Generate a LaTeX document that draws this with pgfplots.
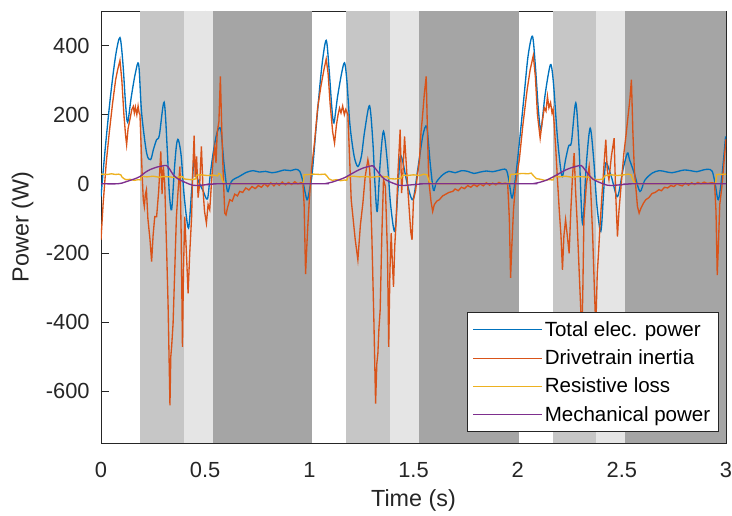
\documentclass[border=0pt]{standalone}
\usepackage{pgfplots}
\pgfplotsset{compat=1.18}
\usepackage{fontspec}
\setmainfont{Liberation Sans}
\definecolor{mblue}{HTML}{0072BD}
\definecolor{morange}{HTML}{D95319}
\definecolor{myellow}{HTML}{EDB120}
\definecolor{mpurple}{HTML}{7E2F8E}
\definecolor{bandA}{HTML}{C6C6C6}
\definecolor{bandB}{HTML}{E5E5E5}
\definecolor{bandC}{HTML}{A5A5A5}
\definecolor{axcol}{HTML}{262626}

\begin{document}
\begin{tikzpicture}
\begin{axis}[
    scale only axis, width=468.75pt, height=324pt,
    xmin=0, xmax=3, ymin=-750, ymax=500,
    xtick={0,0.5,1,1.5,2,2.5,3},
    ytick={-600,-400,-200,0,200,400},
    tick align=inside, major tick length=6pt,
    axis line style={axcol, line width=0.6pt},
    tick style={axcol, line width=0.6pt},
    ticklabel style={font=\fontsize{16.4}{19}\selectfont, text=axcol},
    xticklabel style={yshift=-11pt},
    yticklabel style={xshift=-5pt},
    /pgf/number format/assume math mode=true,
    xlabel={Time (s)}, ylabel={Power (W)},
    label style={font=\fontsize{17.5}{21}\selectfont, text=axcol},
    xlabel style={at={([yshift=-43pt]axis description cs:0.5,0)}, anchor=center},
    ylabel style={at={([xshift=-58.9pt]axis description cs:0,0.5)}, anchor=center},
    legend style={at={(1,0)}, anchor=south east, xshift=-5.25pt, yshift=8.25pt,
                  font=\fontsize{15.4}{18}\selectfont, draw=axcol, line width=0.5pt,
                  fill=white, row sep=4.5pt, inner xsep=4.3pt, inner ysep=4.5pt},
    legend cell align=left,
    legend image code/.code={\draw[#1, line width=0.8pt] (0cm,0cm) -- (1.8cm,0cm);},
  ]
  % shaded phases
  \addplot[fill=bandA, draw=none, forget plot] coordinates {(0.187,-750)(0.398,-750)(0.398,500)(0.187,500)} -- cycle;
  \addplot[fill=bandB, draw=none, forget plot] coordinates {(0.398,-750)(0.538,-750)(0.538,500)(0.398,500)} -- cycle;
  \addplot[fill=bandC, draw=none, forget plot] coordinates {(0.538,-750)(1.015,-750)(1.015,500)(0.538,500)} -- cycle;
  \addplot[fill=bandA, draw=none, forget plot] coordinates {(1.174,-750)(1.388,-750)(1.388,500)(1.174,500)} -- cycle;
  \addplot[fill=bandB, draw=none, forget plot] coordinates {(1.388,-750)(1.524,-750)(1.524,500)(1.388,500)} -- cycle;
  \addplot[fill=bandC, draw=none, forget plot] coordinates {(1.524,-750)(2.008,-750)(2.008,500)(1.524,500)} -- cycle;
  \addplot[fill=bandA, draw=none, forget plot] coordinates {(2.171,-750)(2.377,-750)(2.377,500)(2.171,500)} -- cycle;
  \addplot[fill=bandB, draw=none, forget plot] coordinates {(2.377,-750)(2.514,-750)(2.514,500)(2.377,500)} -- cycle;
  \addplot[fill=bandC, draw=none, forget plot] coordinates {(2.514,-750)(3,-750)(3,500)(2.514,500)} -- cycle;

  % total electrical power
  \addplot[mblue, line width=1pt, smooth, tension=0.5] coordinates {
    (0,-37)(0.02,100)(0.045,250)(0.07,370)(0.091,423)(0.105,350)(0.118,230)(0.128,178)
    (0.145,250)(0.165,320)(0.181,345)(0.195,205)(0.219,89)(0.238,70)(0.252,100)(0.267,128)
    (0.28,140)(0.303,236)(0.318,100)(0.328,-27)(0.339,-75)(0.352,40)(0.362,110)(0.371,128)
    (0.385,80)(0.4,-40)(0.42,-128)(0.435,-20)(0.447,65)(0.46,20)(0.47,4)(0.49,-20)(0.511,-44)
    (0.525,30)(0.541,99)(0.558,150)(0.575,157)(0.59,60)(0.607,-22)(0.62,0)(0.634,12)(0.66,20)
    (0.698,33)(0.73,38)(0.76,34)(0.79,36)(0.82,32)(0.85,35)(0.88,40)(0.91,38)(0.935,42)
    (0.954,36)(0.969,7)(0.989,-46)(1.003,-10)(1.014,32)(1.035,180)(1.06,340)(1.081,415)
    (1.095,330)(1.108,220)(1.118,176)(1.135,250)(1.155,320)(1.169,350)(1.18,300)(1.195,170)
    (1.215,80)(1.233,50)(1.25,80)(1.265,150)(1.289,226)(1.305,120)(1.315,0)(1.326,-80)
    (1.34,60)(1.356,152)(1.375,60)(1.39,-60)(1.41,-138)(1.425,-20)(1.436,79)(1.45,60)
    (1.47,0)(1.497,-46)(1.52,40)(1.545,140)(1.564,164)(1.58,60)(1.596,-19)(1.61,5)(1.64,26)
    (1.67,36)(1.7,32)(1.73,38)(1.76,36)(1.79,30)(1.82,34)(1.85,37)(1.88,35)(1.91,39)
    (1.944,41)(1.958,10)(1.973,-41)(1.99,20)(2.008,118)(2.03,250)(2.05,370)(2.071,427)
    (2.085,340)(2.1,210)(2.112,157)(2.13,250)(2.148,320)(2.16,345)(2.172,290)(2.19,140)
    (2.205,50)(2.215,21)(2.23,70)(2.245,110)(2.258,120)(2.279,234)(2.295,100)(2.311,-114)
    (2.33,60)(2.348,161)(2.365,70)(2.38,-60)(2.399,-138)(2.412,-30)(2.423,60)(2.45,20)
    (2.479,-37)(2.505,40)(2.527,89)(2.537,70)(2.56,30)(2.587,-22)(2.61,10)(2.646,31)
    (2.68,38)(2.71,35)(2.74,32)(2.77,36)(2.8,40)(2.83,38)(2.86,35)(2.89,40)(2.915,42)
    (2.934,36)(2.948,0)(2.963,-46)(2.98,20)(2.998,137)
  };
  \addlegendentry{Total elec. power}

  % drivetrain inertia
  \addplot[morange, line width=1pt] coordinates {
    (0,-162)(0.01,-60)(0.025,60)(0.04,150)(0.055,230)(0.07,300)(0.08,330)(0.091,357)
    (0.1,300)(0.11,200)(0.118,140)(0.123,113)(0.13,160)(0.14,190)(0.148,215)(0.155,224)
    (0.16,205)(0.165,222)(0.172,200)(0.178,225)(0.183,205)(0.187,200)(0.192,120)(0.198,20)
    (0.203,-46)(0.208,-66)(0.213,-30)(0.218,-17)(0.225,-100)(0.235,-160)(0.243,-225)
    (0.25,-150)(0.258,-95)(0.267,-95)(0.277,-20)(0.287,94)(0.293,-30)(0.299,50)(0.306,0)
    (0.315,-191)(0.322,-350)(0.331,-641)(0.335,-500)(0.339,-472)(0.346,-404)(0.354,-250)
    (0.362,-95)(0.37,-20)(0.379,50)(0.385,-150)(0.391,-472)(0.396,-250)(0.402,-95)
    (0.41,-200)(0.418,-317)(0.426,-200)(0.435,-95)(0.44,30)(0.447,139)(0.452,20)(0.459,79)
    (0.466,-40)(0.474,3)(0.482,108)(0.49,-20)(0.497,-80)(0.506,-114)(0.514,-60)(0.522,-75)
    (0.53,0)(0.538,70)(0.546,108)(0.552,60)(0.558,150)(0.566,180)(0.573,311)(0.58,150)
    (0.586,40)(0.594,-85)(0.6,-90)(0.607,-70)(0.618,-46)(0.63,-50)(0.642,-30)(0.655,-35)
    (0.666,-22)(0.68,-25)(0.695,-12)(0.71,-18)(0.725,-8)(0.74,-14)(0.755,-5)(0.77,-10)
    (0.785,0)(0.8,-8)(0.815,3)(0.83,-6)(0.842,2)(0.855,-4)(0.87,5)(0.885,-3)(0.9,4)
    (0.915,-2)(0.93,6)(0.945,0)(0.96,3)(0.969,2)(0.975,-60)(0.982,-261)(0.988,-180)
    (0.993,-119)(1.0,-46)(1.01,40)(1.025,120)(1.04,220)(1.055,280)(1.07,330)(1.081,361)
    (1.09,320)(1.1,230)(1.112,150)(1.121,118)(1.13,170)(1.138,200)(1.145,219)(1.152,205)
    (1.16,225)(1.168,200)(1.175,215)(1.185,200)(1.193,80)(1.201,-46)(1.21,-100)(1.22,-160)
    (1.233,-220)(1.245,-120)(1.257,-56)(1.268,20)(1.281,70)(1.29,40)(1.3,-150)(1.31,-400)
    (1.318,-636)(1.324,-520)(1.329,-491)(1.334,-420)(1.34,-365)(1.348,-150)(1.356,12)
    (1.365,-8)(1.375,-200)(1.381,-472)(1.387,-250)(1.393,-143)(1.398,-220)(1.404,-298)
    (1.41,-180)(1.417,-104)(1.426,40)(1.436,157)(1.443,-27)(1.45,40)(1.457,137)(1.465,60)
    (1.472,-8)(1.48,-80)(1.487,-140)(1.493,-162)(1.5,-46)(1.51,-20)(1.52,30)(1.529,70)
    (1.536,150)(1.542,186)(1.552,260)(1.561,311)(1.567,150)(1.573,12)(1.584,-51)(1.592,-80)
    (1.6,-60)(1.612,-50)(1.624,-46)(1.64,-35)(1.655,-30)(1.67,-25)(1.688,-22)(1.7,-15)
    (1.715,-20)(1.73,-10)(1.745,-14)(1.76,-5)(1.775,-10)(1.79,-2)(1.805,-8)(1.82,0)
    (1.835,-6)(1.85,3)(1.865,-4)(1.88,2)(1.895,-3)(1.91,4)(1.925,0)(1.94,2)(1.952,0)
    (1.96,-100)(1.966,-272)(1.972,-180)(1.98,-75)(1.99,0)(2.008,70)(2.025,170)(2.045,270)
    (2.06,330)(2.075,371)(2.085,310)(2.095,200)(2.108,132)(2.118,180)(2.128,220)(2.136,210)
    (2.143,253)(2.15,220)(2.158,235)(2.165,205)(2.17,215)(2.175,176)(2.183,100)(2.191,12)
    (2.2,-80)(2.208,-150)(2.215,-249)(2.222,-150)(2.23,-104)(2.24,-160)(2.247,-201)
    (2.255,-80)(2.263,20)(2.271,89)(2.278,-20)(2.285,-104)(2.295,-250)(2.303,-365)
    (2.308,-460)(2.313,-300)(2.318,-104)(2.33,0)(2.343,50)(2.35,-8)(2.36,-150)(2.368,-300)
    (2.375,-420)(2.382,-260)(2.388,-201)(2.395,-124)(2.405,-30)(2.415,60)(2.423,128)
    (2.43,40)(2.438,12)(2.45,80)(2.463,132)(2.47,-20)(2.479,-153)(2.486,-80)(2.492,-37)
    (2.5,20)(2.51,89)(2.52,140)(2.528,186)(2.538,240)(2.546,301)(2.553,150)(2.56,41)
    (2.575,-66)(2.583,-85)(2.592,-70)(2.605,-55)(2.615,-46)(2.63,-40)(2.645,-28)(2.66,-25)
    (2.678,-17)(2.69,-20)(2.705,-10)(2.72,-12)(2.735,-5)(2.75,-8)(2.765,0)(2.774,-3)
    (2.79,-6)(2.805,2)(2.82,-4)(2.835,3)(2.85,-2)(2.865,4)(2.88,0)(2.895,5)(2.91,1)
    (2.93,3)(2.945,2)(2.952,-80)(2.958,-264)(2.964,-170)(2.97,-60)(2.98,-10)(2.99,60)(3.0,130)
  };
  \addlegendentry{Drivetrain inertia}

  % resistive loss
  \addplot[myellow, line width=1pt] coordinates {
    (0,28)(0.03,27)(0.05,29)(0.07,27)(0.085,28)(0.095,26)(0.1,20)(0.11,15)(0.12,12)
    (0.14,13)(0.16,10)(0.18,12)(0.19,11)(0.192,22)(0.22,20)(0.25,22)(0.28,19)(0.3,21)
    (0.33,20)(0.36,18)(0.39,21)(0.4,14)(0.43,12)(0.455,14)(0.458,25)(0.48,26)(0.51,24)
    (0.54,25)(0.56,23)(0.565,30)(0.575,27)(0.583,10)(0.59,2)(0.6,0.5)(0.97,0.5)
    (0.975,26)(1.0,27)(1.02,28)(1.05,27)(1.075,28)(1.085,22)(1.095,14)(1.11,10)(1.13,12)
    (1.15,9)(1.17,11)(1.18,10)(1.185,21)(1.21,22)(1.24,20)(1.27,21)(1.3,19)(1.33,21)
    (1.36,20)(1.377,21)(1.38,15)(1.41,14)(1.44,16)(1.449,25)(1.47,24)(1.5,26)(1.53,24)
    (1.55,28)(1.565,26)(1.575,8)(1.585,1)(1.59,0.5)(1.96,0.5)
    (1.965,27)(1.99,28)(2.02,30)(2.05,29)(2.065,31)(2.075,24)(2.09,15)(2.11,13)(2.13,10)
    (2.15,12)(2.17,11)(2.175,22)(2.2,20)(2.23,22)(2.26,19)(2.29,21)(2.32,20)(2.355,19)
    (2.36,13)(2.39,12)(2.41,14)(2.42,24)(2.45,26)(2.48,24)(2.51,26)(2.53,28)(2.545,26)
    (2.555,8)(2.565,1)(2.57,0.5)(2.95,0.5)(2.955,27)(3,28)
  };
  \addlegendentry{Resistive loss}

  % mechanical power
  \addplot[mpurple, line width=1pt, smooth, tension=0.5] coordinates {
    (0,0)(0.08,0)(0.1,2)(0.13,8)(0.16,14)(0.187,21)(0.21,32)(0.235,41)(0.267,48)(0.29,51)
    (0.314,53)(0.33,42)(0.347,26)(0.37,14)(0.394,7)(0.42,0)(0.44,-4)(0.459,-5)(0.5,-3)
    (0.538,-1)(0.58,0)(1.06,0)
    (1.08,1)(1.11,5)(1.14,11)(1.17,18)(1.2,28)(1.23,38)(1.26,46)(1.285,50)(1.305,52)
    (1.32,42)(1.34,26)(1.36,14)(1.385,6)(1.41,0)(1.43,-4)(1.45,-5)(1.49,-3)(1.53,-1)
    (1.57,0)(2.06,0)
    (2.08,1)(2.11,5)(2.14,11)(2.17,20)(2.2,30)(2.23,40)(2.26,47)(2.285,51)(2.305,53)
    (2.32,43)(2.34,27)(2.36,14)(2.385,6)(2.41,0)(2.43,-4)(2.45,-5)(2.49,-3)(2.53,-1)
    (2.57,0)(3,0)
  };
  \addlegendentry{Mechanical power}
\end{axis}
\pgfresetboundingbox
\path[use as bounding box] ([xshift=-75.75pt,yshift=-54pt]current axis.south west)
  rectangle ([xshift=4.5pt,yshift=8.25pt]current axis.north east);
\end{tikzpicture}
\end{document}
